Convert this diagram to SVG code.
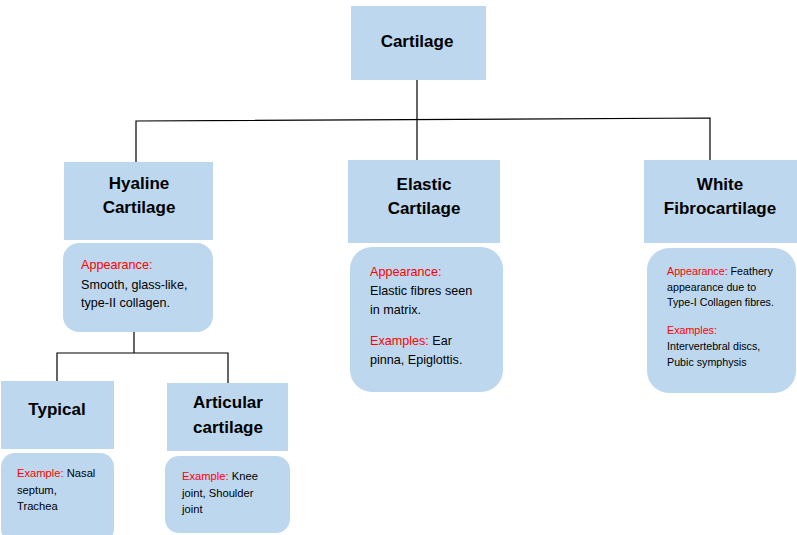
<svg xmlns="http://www.w3.org/2000/svg" width="797" height="535" viewBox="0 0 797 535">
<style>
.box{fill:#BDD7EE;}
.t{font-family:"Liberation Sans",Arial,sans-serif;font-weight:bold;font-size:17px;fill:#000;text-anchor:middle;}
.b{font-family:"Liberation Sans",Arial,sans-serif;font-size:12.6px;fill:#000;}
.s{font-family:"Liberation Sans",Arial,sans-serif;font-size:10.7px;fill:#000;}
.m{font-family:"Liberation Sans",Arial,sans-serif;font-size:11.2px;fill:#000;}
.r{fill:#FF0000;}
.c{fill:none;stroke:#000;stroke-width:1.2;}
</style>
<rect width="797" height="535" fill="#fff"/>
<g id="connectors">
<path class="c" d="M417 80 V160 M136 162 V121 L710 118 V160"/>
<path class="c" d="M134 332 V353 M57 381 V353 H228 V383"/>
</g>
<g id="cartilage">
<rect class="box" x="351" y="6" width="135" height="74"/>
<text class="t" x="417" y="47">Cartilage</text>
</g>
<g id="hyaline">
<rect class="box" x="64" y="162" width="149" height="78"/>
<text class="t" x="139" y="189">Hyaline</text>
<text class="t" x="139" y="213">Cartilage</text>
</g>
<g id="hyaline-detail">
<rect class="box" x="63" y="243" width="150" height="89" rx="16"/>
<text class="b" x="81" y="269"><tspan class="r">Appearance:</tspan></text>
<text class="b" x="81" y="289">Smooth, glass-like,</text>
<text class="b" x="81" y="307">type-II collagen.</text>
</g>
<g id="elastic">
<rect class="box" x="348" y="160" width="152" height="83"/>
<text class="t" x="424" y="190">Elastic</text>
<text class="t" x="424" y="214">Cartilage</text>
</g>
<g id="elastic-detail">
<rect class="box" x="350" y="247" width="153" height="145" rx="22"/>
<text class="b" x="370" y="276"><tspan class="r">Appearance:</tspan></text>
<text class="b" x="370" y="295">Elastic fibres seen</text>
<text class="b" x="370" y="314">in matrix.</text>
<text class="b" x="370" y="345"><tspan class="r">Examples:</tspan> Ear</text>
<text class="b" x="370" y="364">pinna, Epiglottis.</text>
</g>
<g id="fibro">
<rect class="box" x="644" y="160" width="153" height="83"/>
<text class="t" x="720" y="190">White</text>
<text class="t" x="720" y="214">Fibrocartilage</text>
</g>
<g id="fibro-detail">
<rect class="box" x="647" y="248" width="149" height="145" rx="22"/>
<text class="s" x="667" y="275"><tspan class="r">Appearance:</tspan> Feathery</text>
<text class="s" x="667" y="291">appearance due to</text>
<text class="s" x="667" y="306">Type-I Collagen fibres.</text>
<text class="s" x="667" y="334"><tspan class="r">Examples:</tspan></text>
<text class="s" x="667" y="350">Intervertebral discs,</text>
<text class="s" x="667" y="366">Pubic symphysis</text>
</g>
<g id="typical">
<rect class="box" x="1" y="381" width="113" height="68"/>
<text class="t" x="57" y="415">Typical</text>
</g>
<g id="typical-detail">
<rect class="box" x="1" y="453" width="113" height="90" rx="14"/>
<text class="m" x="17" y="477"><tspan class="r">Example:</tspan> Nasal</text>
<text class="m" x="17" y="494">septum,</text>
<text class="m" x="17" y="510">Trachea</text>
</g>
<g id="articular">
<rect class="box" x="167" y="383" width="121" height="68"/>
<text class="t" x="228" y="408">Articular</text>
<text class="t" x="228" y="433">cartilage</text>
</g>
<g id="articular-detail">
<rect class="box" x="165" y="456" width="125" height="77" rx="14"/>
<text class="m" x="182" y="480"><tspan class="r">Example:</tspan> Knee</text>
<text class="m" x="182" y="497">joint, Shoulder</text>
<text class="m" x="182" y="513">joint</text>
</g>
</svg>
